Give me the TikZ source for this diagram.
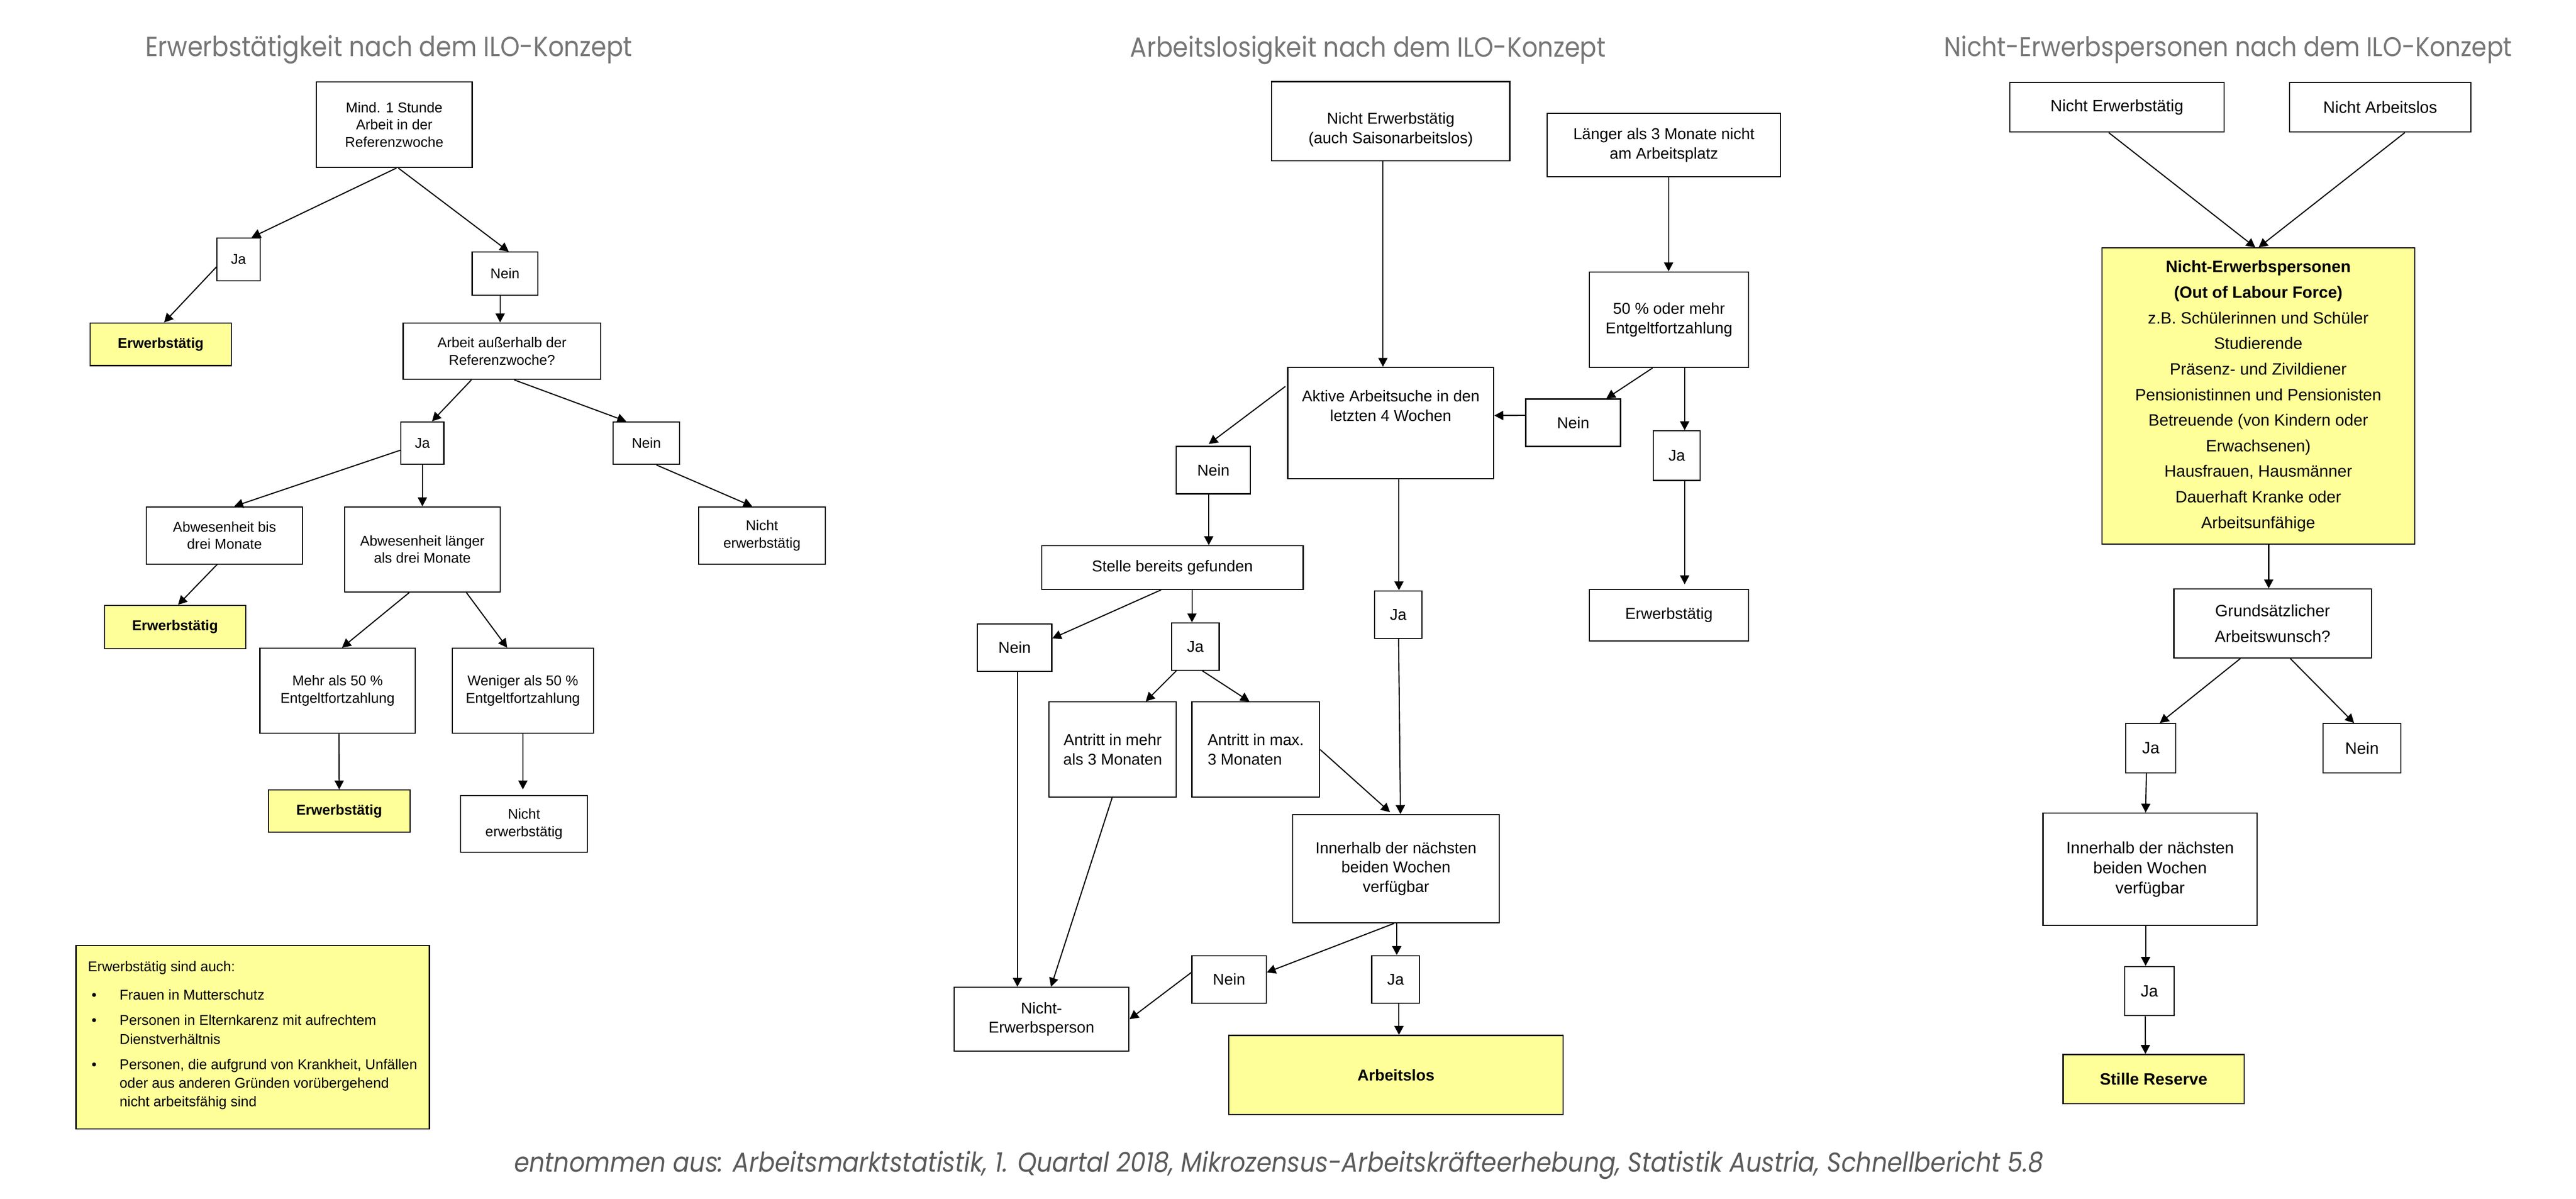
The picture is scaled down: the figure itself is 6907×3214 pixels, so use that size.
\documentclass[tikz,border=0pt]{standalone}
\usepackage{fontspec}
\setmainfont{Liberation Sans}
\newfontfamily\titlefont{Poppins}
\usetikzlibrary{arrows.meta,calc}
\definecolor{yel}{HTML}{FFFF99}
\definecolor{ttl}{HTML}{767676}
\definecolor{ftr}{HTML}{5A5A5A}
\newcommand\drawbox[7]{%
  \pgfmathsetmacro\bxw{(#5-#3)/100}%
  \pgfmathsetmacro\bxh{(#6-#4)/100}%
  \node[box,#1,minimum width=\bxw cm,minimum height=\bxh cm] (#2) at ({(#3+#5)/2},{(#4+#6)/2}) {#7};}
\begin{document}
\begin{tikzpicture}[x=0.01cm,y=-0.01cm,
  box/.style={draw, line width=0.85pt, inner sep=2pt, align=center, fill=white},
  yb/.style={fill=yel},
  lf/.style={font=\fontsize{10.8}{13.2}\selectfont},
  mf/.style={font=\fontsize{12}{14.8}\selectfont},
  rf/.style={font=\fontsize{12.5}{15.4}\selectfont},
  rfw/.style={font=\fontsize{12.5}{19.5}\selectfont},
  arr/.style={-{Triangle[length=6.8pt,width=7pt]}, line width=0.85pt},
  ttlnode/.style={anchor=base west, inner sep=0, text=ttl}]
\fill[white] (0,0) rectangle (6907,3214);
\useasboundingbox (0,0) rectangle (6907,3214);

% ---------- titles ----------
\node[ttlnode] (t1) at (389,151) {\scalebox{1}[1.12]{\resizebox{13.05cm}{!}{\titlefont Erwerbstätigkeit nach dem ILO-Konzept}}};
\node[ttlnode] (t2) at (3030,152) {\scalebox{1}[1.12]{\resizebox{12.74cm}{!}{\titlefont Arbeitslosigkeit nach dem ILO-Konzept}}};
\node[ttlnode] (t3) at (5212,151) {\scalebox{1}[1.12]{\resizebox{15.22cm}{!}{\titlefont Nicht-Erwerbspersonen nach dem ILO-Konzept}}};
\node[anchor=base west, inner sep=0, text=ftr] (foot) at (1378,3142) {\scalebox{1}[1.12]{\resizebox{40.98cm}{!}{\titlefont\itshape entnommen aus: Arbeitsmarktstatistik, 1. Quartal 2018, Mikrozensus-Arbeitskräfteerhebung, Statistik Austria, Schnellbericht 5.8}}};

% ---------- left panel ----------
\drawbox{lf}{lmind}{848}{220}{1266}{449}{Mind. 1 Stunde\\Arbeit in der\\Referenzwoche}
\drawbox{lf}{lja1}{582}{638}{697}{753}{Ja}
\drawbox{lf}{lnein1}{1266}{676}{1442}{791}{Nein}
\drawbox{lf,yb}{lerw1}{242}{866}{620}{980}{\textbf{Erwerbstätig}}
\drawbox{lf}{lauss}{1081}{866}{1611}{1017}{Arbeit außerhalb der\\Referenzwoche?}
\drawbox{lf}{lja2}{1075}{1131}{1190}{1245}{Ja}
\drawbox{lf}{lnein2}{1644}{1131}{1822}{1245}{Nein}
\drawbox{lf}{labwb}{393}{1359}{811}{1512}{Abwesenheit bis\\drei Monate}
\drawbox{lf}{labwl}{924}{1359}{1341}{1587}{Abwesenheit länger\\als drei Monate}
\drawbox{lf}{lnicht1}{1873}{1359}{2213}{1512}{Nicht\\erwerbstätig}
\drawbox{lf,yb}{lerw2}{280}{1623}{659}{1739}{\textbf{Erwerbstätig}}
\drawbox{lf}{lmehr}{697}{1738}{1113}{1966}{Mehr als 50 \%\\Entgeltfortzahlung}
\drawbox{lf}{lwen}{1213}{1738}{1591}{1966}{Weniger als 50 \%\\Entgeltfortzahlung}
\drawbox{lf,yb}{lerw3}{720}{2118}{1099}{2231}{\textbf{Erwerbstätig}}
\drawbox{lf}{lnicht2}{1235}{2133}{1575}{2285}{Nicht\\erwerbstätig}
\drawbox{yb}{lnote}{204}{2535}{1151}{3027}{}
\node[anchor=north west, inner sep=0, font=\fontsize{10.8}{14.3}\selectfont] (lnotetxt) at (235,2577) {\parbox[t]{9.0cm}{\raggedright
Erwerbstätig sind auch:\par\vspace{7.3pt}
\hangindent=0.85cm\hangafter=1\hspace*{0.1cm}\makebox[0.75cm][l]{\textbullet}Frauen in Mutterschutz\par\vspace{4.9pt}
\hangindent=0.85cm\hangafter=1\hspace*{0.1cm}\makebox[0.75cm][l]{\textbullet}Personen in Elternkarenz mit aufrechtem\newline Dienstverhältnis\par\vspace{4.9pt}
\hangindent=0.85cm\hangafter=1\hspace*{0.1cm}\makebox[0.75cm][l]{\textbullet}Personen, die aufgrund von Krankheit, Unfällen\newline oder aus anderen Gründen vorübergehend\newline nicht arbeitsfähig sind\par}};

\draw[arr] ($(lmind.south)+(6,0)$) -- ($(lja1.north)+(35,0)$);
\draw[arr] ($(lmind.south)+(11,0)$) -- ($(lnein1.north)+(10,0)$);
\draw[arr] ($(lja1.west)+(0,20)$) -- ($(lerw1.north)+(9,0)$);
\draw[arr] ($(lnein1.south)+(-13,0)$) -- ($(lauss.north)+(-5,0)$);
\draw[arr] ($(lauss.south)+(-82,0)$) -- ($(lja2.north)+(26,0)$);
\draw[arr] ($(lauss.south)+(33,0)$) -- ($(lnein2.north)+(-54,0)$);
\draw[arr] ($(lja2.west)+(0,19)$) -- ($(labwb.north)+(26,0)$);
\draw[arr] (lja2.south) -- (labwl.north);
\draw[arr] ($(lnein2.south)+(27,0)$) -- ($(lnicht1.north)+(-26,0)$);
\draw[arr] ($(labwb.south)+(-20,0)$) -- ($(lerw2.north)+(8,0)$);
\draw[arr] ($(labwl.south)+(-35,0)$) -- ($(lmehr.north)+(12,0)$);
\draw[arr] ($(labwl.south)+(118,0)$) -- ($(lwen.north)+(-42,0)$);
\draw[arr] ($(lmehr.south)+(4,0)$) -- (lerw3.north);
\draw[arr] (lwen.south) -- ($(lnicht2.north)+(-3,-15)$);

% ---------- middle panel ----------
\drawbox{mf}{mne}{3410}{219}{4048}{431}{\rule{0pt}{0.75cm}Nicht Erwerbstätig\\(auch Saisonarbeitslos)}
\drawbox{mf}{mlang}{4149}{304}{4774}{474}{Länger als 3 Monate nicht\\am Arbeitsplatz}
\drawbox{mf}{m50}{4262}{729}{4688}{985}{50 \% oder mehr\\Entgeltfortzahlung}
\drawbox{mf}{makt}{3453}{985}{4005}{1283}{Aktive Arbeitsuche in den\\letzten 4 Wochen\\[0.4cm]}
\drawbox{mf}{mnein1}{4091}{1070}{4345}{1197}{Nein}
\drawbox{mf}{mja1}{4433}{1155}{4559}{1288}{Ja}
\drawbox{mf}{mnein2}{3154}{1197}{3353}{1324}{Nein}
\drawbox{mf}{mstelle}{2793}{1463}{3494}{1580}{Stelle bereits gefunden}
\drawbox{mf}{mja2}{3685}{1584}{3813}{1711}{Ja}
\drawbox{mf}{merw}{4262}{1580}{4688}{1718}{Erwerbstätig}
\drawbox{mf}{mnein3}{2621}{1673}{2820}{1800}{Nein}
\drawbox{mf}{mja3}{3141}{1670}{3269}{1797}{Ja}
\drawbox{mf}{mamehr}{2813}{1882}{3154}{2137}{Antritt in mehr\\als 3 Monaten}
\drawbox{mf,align=left}{mamax}{3196}{1882}{3538}{2137}{Antritt in max.\\3 Monaten}
\drawbox{mf}{minner}{3466}{2184}{4020}{2474}{Innerhalb der nächsten\\beiden Wochen\\verfügbar}
\drawbox{mf}{mnep}{2558}{2647}{3027}{2818}{Nicht-\\Erwerbsperson}
\drawbox{mf}{mnein4}{3196}{2562}{3395}{2690}{Nein}
\drawbox{mf}{mja4}{3678}{2562}{3806}{2690}{Ja}
\drawbox{mf,yb}{marb}{3295}{2776}{4191}{2988}{\textbf{Arbeitslos}}

\draw[arr] ($(mne.south)+(-21,0)$) -- ($(makt.north)+(-21,0)$);
\draw[arr] ($(mlang.south)+(12.5,0)$) -- ($(m50.north)+(-1,0)$);
\draw[arr] ($(m50.south)+(-44,0)$) -- ($(mnein1.north)+(89,0)$);
\draw[arr] ($(m50.south)+(42,0)$) -- ($(mja1.north)+(21,0)$);
\draw[arr] ($(mnein1.west)+(0,-20)$) -- ($(makt.east)+(0,-20)$);
\draw[arr] ($(makt.west)+(-5,-98)$) -- ($(mnein2.north)+(-12.5,-5)$);
\draw[arr] ($(mnein2.south)+(-12.5,0)$) -- ($(mstelle.north)+(97.5,0)$);
\draw[arr] ($(makt.south)+(22,0)$) -- ($(mja2.north)+(2,0)$);
\draw[arr] ($(mja1.south)+(21,0)$) -- ($(merw.north)+(42,-12)$);
\draw[arr] ($(mstelle.south)+(-30.5,0)$) -- ($(mnein3.east)+(0,-25)$);
\draw[arr] ($(mstelle.south)+(52.5,0)$) -- ($(mja3.north)+(-9,0)$);
\draw[arr] ($(mja3.south)+(-51,0)$) -- ($(mamehr.north)+(88.5,0)$);
\draw[arr] ($(mja3.south)+(19,0)$) -- ($(mamax.north)+(-17,0)$);
\draw[arr] ($(mja2.south)+(1,0)$) -- ($(minner.north)+(12,0)$);
\draw[arr] (mamax.east) -- ($(minner.north)+(-16,-5)$);
\draw[arr] ($(mnein3.south)+(7.5,0)$) -- ($(mnep.north)+(-64.5,0)$);
\draw[arr] ($(mamehr.south)+(-1.5,0)$) -- ($(mnep.north)+(25.5,0)$);
\draw[arr] ($(minner.south)+(-5,0)$) -- ($(mnein4.east)+(0,-19)$);
\draw[arr] ($(minner.south)+(2,0)$) -- ($(mja4.north)+(3,0)$);
\draw[arr] ($(mnein4.west)+(0,-19)$) -- (mnep.east);
\draw[arr] ($(mja4.south)+(9,0)$) -- ($(marb.north)+(8,0)$);

% ---------- right panel ----------
\drawbox{rf}{rne}{5389}{221}{5963}{354}{Nicht Erwerbstätig}
\drawbox{rf}{rna}{6139}{221}{6625}{354}{Nicht Arbeitslos}
\drawbox{rfw,yb}{rnep}{5636}{665}{6474}{1459}{\textbf{Nicht-Erwerbspersonen}\\\textbf{(Out of Labour Force)}\\z.B. Schülerinnen und Schüler\\Studierende\\Präsenz- und Zivildiener\\Pensionistinnen und Pensionisten\\Betreuende (von Kindern oder\\Erwachsenen)\\Hausfrauen, Hausmänner\\Dauerhaft Kranke oder\\Arbeitsunfähige}
\drawbox{rfw}{rgrund}{5829}{1579}{6358}{1764}{Grundsätzlicher\\Arbeitswunsch?}
\drawbox{rf}{rja1}{5700}{1940}{5834}{2072}{Ja}
\drawbox{rf}{rnein}{6229}{1940}{6437}{2072}{Nein}
\drawbox{rf}{rinner}{5478}{2180}{6052}{2481}{Innerhalb der nächsten\\beiden Wochen\\verfügbar}
\drawbox{rf}{rja2}{5697}{2591}{5829}{2723}{Ja}
\drawbox{rf,yb}{rstille}{5532}{2827}{6017}{2959}{\textbf{Stille Reserve}}

\draw[arr] ($(rne.south)+(-22,0)$) -- ($(rnep.north)+(-8,0)$);
\draw[arr] ($(rna.south)+(66,0)$) -- ($(rnep.north)+(1,0)$);
\draw[arr] ($(rnep.south)+(28,0)$) -- ($(rgrund.north)+(-10.5,0)$);
\draw[arr] ($(rgrund.south)+(-86.5,0)$) -- ($(rja1.north)+(24,0)$);
\draw[arr] ($(rgrund.south)+(47.5,0)$) -- ($(rnein.north)+(-21,0)$);
\draw[arr] ($(rja1.south)+(-12,0)$) -- ($(rinner.north)+(-12,0)$);
\draw[arr] ($(rinner.south)+(-12,0)$) -- ($(rja2.north)+(-10,0)$);
\draw[arr] ($(rja2.south)+(-11,0)$) -- ($(rstille.north)+(-22,0)$);
\end{tikzpicture}
\end{document}
